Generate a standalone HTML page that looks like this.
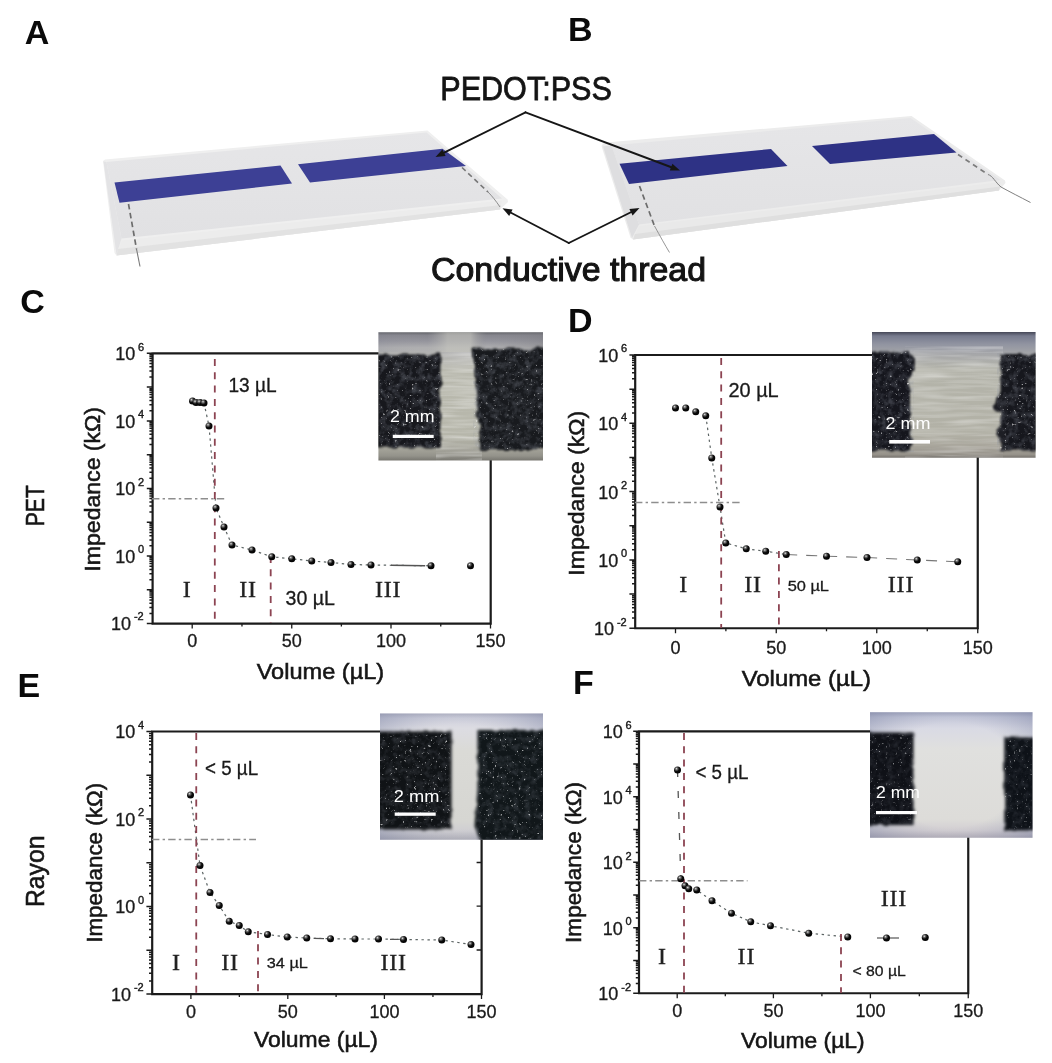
<!DOCTYPE html>
<html lang="en"><head><meta charset="utf-8"><title>Figure</title>
<style>
html,body{margin:0;padding:0;background:#fff;}
body{width:1052px;height:1063px;overflow:hidden;}
svg{display:block;filter:blur(0.55px);}
text{font-family:"Liberation Sans", sans-serif;fill:#1a1a1a;}
.lbl{font-weight:bold;font-size:34px;fill:#0a0a0a;}
.tk{font-size:18px;fill:#1a1a1a;stroke:#1a1a1a;stroke-width:0.3px;}
.sup{font-size:11px;fill:#1a1a1a;stroke:#1a1a1a;stroke-width:0.4px;}
.ax{font-size:22px;fill:#161616;}
.rom{font-family:"Liberation Serif", serif;font-size:24px;fill:#222;stroke:#222;stroke-width:0.35px;letter-spacing:0.8px;}
.ann{font-size:19.5px;fill:#1a1a1a;stroke:#1a1a1a;stroke-width:0.3px;}
.ann2{font-size:15px;fill:#1a1a1a;stroke:#1a1a1a;stroke-width:0.3px;}
.mm{font-size:16.5px;fill:#fff;}
</style></head><body>
<svg width="1052" height="1063" viewBox="0 0 1052 1063">
<defs>
<radialGradient id="ball" cx="0.36" cy="0.32" r="0.7"><stop offset="0" stop-color="#f0f0f0"/><stop offset="0.2" stop-color="#777"/><stop offset="0.55" stop-color="#0c0c0c"/><stop offset="1" stop-color="#000"/></radialGradient>
<filter id="soft" x="-5%" y="-5%" width="110%" height="110%"><feGaussianBlur stdDeviation="0.7"/></filter>
<filter id="soft2" x="-5%" y="-5%" width="110%" height="110%"><feGaussianBlur stdDeviation="1.6"/></filter>
<filter id="soft3" x="-10%" y="-10%" width="120%" height="120%"><feGaussianBlur stdDeviation="3"/></filter>
<filter id="txt" x="-5%" y="-20%" width="110%" height="140%"><feGaussianBlur stdDeviation="0.45"/></filter>
<filter id="speck" x="0" y="0" width="100%" height="100%" color-interpolation-filters="sRGB"><feTurbulence type="fractalNoise" baseFrequency="0.42" numOctaves="2" seed="7" result="n"/><feColorMatrix in="n" type="matrix" values="0 0 0 0 1  0 0 0 0 1  0 0 0 0 1  3 3 3 0 -5.35"/><feGaussianBlur stdDeviation="0.6"/><feComposite in2="SourceGraphic" operator="in"/></filter>
<filter id="fiber" x="0" y="0" width="100%" height="100%"><feTurbulence type="fractalNoise" baseFrequency="0.02 0.28" numOctaves="2" seed="3" result="n"/><feColorMatrix in="n" type="matrix" values="0 0 0 0 1  0 0 0 0 1  0 0 0 0 1  1.2 1.2 0 0 -0.95"/><feComposite in2="SourceGraphic" operator="in"/></filter>
<linearGradient id="slabTop" x1="0" y1="0" x2="0" y2="1"><stop offset="0" stop-color="#e6e6e8"/><stop offset="1" stop-color="#e1e1e3"/></linearGradient>
</defs>
<rect x="0" y="0" width="1052" height="1063" fill="#ffffff"/>
<g id="panelAB">
<g filter="url(#soft)">
<polygon points="103.0,161.0 105.0,159.5 427.5,130.5 507.5,199.5 508.0,202.0 500.0,209.5 116.5,255.5 114.5,253.0" fill="#efefef"/>
<polygon points="103.5,161.5 106.5,162.0 121.5,238.5 116.5,254.5" fill="#e3e3e5"/>
<polygon points="106.5,162.0 426.5,132.5 502.0,198.5 121.5,238.5" fill="url(#slabTop)"/>
<polygon points="121.5,240.5 502.0,200.5 500.0,209.5 116.5,255.5" fill="#ececec"/>
<polygon points="118.0,249.0 501.0,205.0 500.0,209.5 116.5,255.5" fill="#e2e2e2"/>
</g>
<g filter="url(#soft)">
<polygon points="114.5,182.5 280.5,165.5 292.0,183.5 119.5,202.8" fill="#3c4095"/>
<polygon points="298.0,164.2 442.5,148.8 466.0,166.0 310.0,182.6" fill="#3c4095"/>
</g>
<line x1="128.50" y1="204.00" x2="136.50" y2="249.00" stroke="#6c6c6c" stroke-width="1.7" stroke-dasharray="5.5 3.5"/>
<line x1="136.50" y1="249.00" x2="140.00" y2="266.50" stroke="#7a7a7a" stroke-width="1.1"/>
<line x1="462.00" y1="167.50" x2="488.00" y2="192.00" stroke="#777" stroke-width="1.6" stroke-dasharray="5 3.5"/>
<path d="M488,192 C492,196 496,201 500,207" fill="none" stroke="#8d8d8d" stroke-width="1"/>
<g filter="url(#soft)">
<polygon points="601.5,146.0 603.0,143.5 606.0,142.5 911.5,116.0 1005.0,180.5 1005.5,183.0 999.0,190.5 633.0,239.5 630.5,237.5" fill="#ececec"/>
<polygon points="611.5,145.5 910.5,118.0 1000.5,180.0 639.0,224.5" fill="url(#slabTop)"/>
<polygon points="603.0,146.5 611.5,145.5 639.0,224.5 632.0,238.0" fill="#dedee0"/>
<polygon points="639.0,226.0 1000.5,182.0 999.0,190.5 633.0,239.5" fill="#e9e9e9"/>
<polygon points="635.0,234.0 1000.0,186.5 999.0,190.5 633.0,239.5" fill="#dfdfdf"/>
</g>
<g filter="url(#soft)">
<polygon points="619.5,163.8 771.0,149.0 787.5,166.0 629.0,184.0" fill="#2f3285"/>
<polygon points="812.0,146.0 934.0,134.0 956.5,152.5 830.0,164.0" fill="#2f3285"/>
</g>
<line x1="639.50" y1="186.00" x2="654.50" y2="226.00" stroke="#6c6c6c" stroke-width="1.7" stroke-dasharray="5.5 3.5"/>
<path d="M654.5,226 C660,236 665,245 669.5,252.5" fill="none" stroke="#8a8a8a" stroke-width="0.9"/>
<line x1="958.00" y1="154.50" x2="988.00" y2="174.50" stroke="#7c7c7c" stroke-width="1.6" stroke-dasharray="5 4"/>
<path d="M988,174.5 C993,176 995,182 1001,187 C1010,192 1020,197 1030.5,202.5" fill="none" stroke="#808080" stroke-width="1"/>
<line x1="525.50" y1="112.30" x2="443.11" y2="153.22" stroke="#161616" stroke-width="1.9" stroke-linecap="round"/>
<polygon points="435.5,157.0 442.4,149.5 445.6,156.0" fill="#161616"/>
<line x1="525.50" y1="112.30" x2="672.05" y2="167.50" stroke="#161616" stroke-width="1.9" stroke-linecap="round"/>
<polygon points="680.0,170.5 669.8,170.5 672.4,163.8" fill="#161616"/>
<line x1="568.80" y1="243.00" x2="510.03" y2="212.24" stroke="#161616" stroke-width="1.9" stroke-linecap="round"/>
<polygon points="502.5,208.3 512.6,209.5 509.2,215.9" fill="#161616"/>
<line x1="568.80" y1="243.00" x2="631.88" y2="211.77" stroke="#161616" stroke-width="1.9" stroke-linecap="round"/>
<polygon points="639.5,208.0 632.6,215.4 629.4,209.0" fill="#161616"/>
<text x="24.7" y="43.7" class="lbl" >A</text>
<text x="568.0" y="41.2" class="lbl" >B</text>
<text x="440.3" y="100.3" textLength="171.5" lengthAdjust="spacingAndGlyphs" style="font-size:34px;fill:#141414" stroke="#141414" stroke-width="0.8">PEDOT:PSS</text>
<text x="431.0" y="281.4" textLength="275.0" lengthAdjust="spacingAndGlyphs" style="font-size:34px;fill:#141414" stroke="#141414" stroke-width="1.1">Conductive thread</text>
</g>
<g id="chartC">
<path d="M379.50,353.30 H152.60 M152.60,352.40 V623.60 H490.70 V459.70" fill="none" stroke="#1b1b1b" stroke-width="2.2" stroke-linejoin="miter"/>
<path d="M152.60,623.60 h-5.8 M152.60,613.43 h-3.2 M152.60,607.48 h-3.2 M152.60,603.26 h-3.2 M152.60,599.98 h-3.2 M152.60,597.31 h-3.2 M152.60,595.05 h-3.2 M152.60,593.09 h-3.2 M152.60,591.36 h-3.2 M152.60,589.81 h-5.8 M152.60,579.64 h-3.2 M152.60,573.69 h-3.2 M152.60,569.47 h-3.2 M152.60,566.20 h-3.2 M152.60,563.52 h-3.2 M152.60,561.26 h-3.2 M152.60,559.30 h-3.2 M152.60,557.57 h-3.2 M152.60,556.02 h-5.8 M152.60,545.85 h-3.2 M152.60,539.90 h-3.2 M152.60,535.68 h-3.2 M152.60,532.41 h-3.2 M152.60,529.73 h-3.2 M152.60,527.47 h-3.2 M152.60,525.51 h-3.2 M152.60,523.78 h-3.2 M152.60,522.24 h-5.8 M152.60,512.07 h-3.2 M152.60,506.12 h-3.2 M152.60,501.90 h-3.2 M152.60,498.62 h-3.2 M152.60,495.95 h-3.2 M152.60,493.68 h-3.2 M152.60,491.72 h-3.2 M152.60,490.00 h-3.2 M152.60,488.45 h-5.8 M152.60,478.28 h-3.2 M152.60,472.33 h-3.2 M152.60,468.11 h-3.2 M152.60,464.83 h-3.2 M152.60,462.16 h-3.2 M152.60,459.90 h-3.2 M152.60,457.94 h-3.2 M152.60,456.21 h-3.2 M152.60,454.66 h-5.8 M152.60,444.49 h-3.2 M152.60,438.54 h-3.2 M152.60,434.32 h-3.2 M152.60,431.05 h-3.2 M152.60,428.37 h-3.2 M152.60,426.11 h-3.2 M152.60,424.15 h-3.2 M152.60,422.42 h-3.2 M152.60,420.88 h-5.8 M152.60,410.70 h-3.2 M152.60,404.75 h-3.2 M152.60,400.53 h-3.2 M152.60,397.26 h-3.2 M152.60,394.58 h-3.2 M152.60,392.32 h-3.2 M152.60,390.36 h-3.2 M152.60,388.63 h-3.2 M152.60,387.09 h-5.8 M152.60,376.92 h-3.2 M152.60,370.97 h-3.2 M152.60,366.75 h-3.2 M152.60,363.47 h-3.2 M152.60,360.80 h-3.2 M152.60,358.53 h-3.2 M152.60,356.57 h-3.2 M152.60,354.85 h-3.2 M152.60,353.30 h-5.8" stroke="#1b1b1b" stroke-width="1.5" fill="none"/>
<path d="M192.20,623.60 v5.0 M241.97,623.60 v3.0 M291.75,623.60 v5.0 M341.38,623.60 v3.0 M391.00,623.60 v5.0 M440.75,623.60 v3.0 M490.50,623.60 v5.0" stroke="#1b1b1b" stroke-width="1.3" fill="none"/>
<text x="135.4" y="360.4" class="tk" text-anchor="end" >10</text>
<text x="138.1" y="350.8" class="sup" >6</text>
<text x="135.4" y="427.9" class="tk" text-anchor="end" >10</text>
<text x="138.1" y="418.3" class="sup" >4</text>
<text x="135.4" y="495.2" class="tk" text-anchor="end" >10</text>
<text x="138.1" y="485.6" class="sup" >2</text>
<text x="135.4" y="562.6" class="tk" text-anchor="end" >10</text>
<text x="138.1" y="553.0" class="sup" >0</text>
<text x="131.0" y="629.9" class="tk" text-anchor="end" >10</text>
<text x="133.9" y="620.3" class="sup" >-2</text>
<text x="192.2" y="647.2" class="tk" text-anchor="middle" >0</text>
<text x="291.8" y="647.2" class="tk" text-anchor="middle" >50</text>
<text x="391.0" y="647.2" class="tk" text-anchor="middle" >100</text>
<text x="490.5" y="647.2" class="tk" text-anchor="middle" >150</text>
<text x="256.7" y="678.6" class="ax" textLength="127.5" lengthAdjust="spacingAndGlyphs" stroke="#161616" stroke-width="0.55">Volume (µL)</text>
<text class="ax" transform="translate(99.6,489.3) rotate(-90)" text-anchor="middle" textLength="164.5" lengthAdjust="spacingAndGlyphs" stroke="#161616" stroke-width="0.55">Impedance (kΩ)</text>
<line x1="152.00" y1="498.80" x2="226.00" y2="498.80" stroke="#8e8e8e" stroke-width="1.5" stroke-dasharray="7.4 3.2 2.4 3.2"/>
<polyline points="204.0,403.0 209.0,426.0 216.0,508.0 224.0,527.0 232.0,545.0 252.0,550.0 271.8,556.8 291.8,558.8 311.8,561.0 331.0,562.5 351.0,564.5 371.0,565.0 431.0,565.8" fill="none" stroke="#5c6464" stroke-width="1.2" stroke-dasharray="2.4 3.6"/>
<polyline points="391.0,565.3 425.0,565.7" fill="none" stroke="#555" stroke-width="1.4" stroke-dasharray="none"/>
<line x1="214.80" y1="359.00" x2="214.80" y2="623.00" stroke="#8c4452" stroke-width="1.8" stroke-dasharray="7 6.3"/>
<line x1="270.70" y1="556.00" x2="270.70" y2="623.00" stroke="#8c4452" stroke-width="1.8" stroke-dasharray="7 6.3"/>
<circle cx="192.50" cy="401.00" r="3.5" fill="url(#ball)"/>
<circle cx="196.00" cy="402.50" r="3.5" fill="url(#ball)"/>
<circle cx="200.00" cy="402.50" r="3.5" fill="url(#ball)"/>
<circle cx="204.00" cy="403.00" r="3.5" fill="url(#ball)"/>
<circle cx="209.00" cy="426.00" r="3.5" fill="url(#ball)"/>
<circle cx="216.00" cy="508.00" r="3.5" fill="url(#ball)"/>
<circle cx="224.00" cy="527.00" r="3.5" fill="url(#ball)"/>
<circle cx="232.00" cy="545.00" r="3.5" fill="url(#ball)"/>
<circle cx="252.00" cy="550.00" r="3.5" fill="url(#ball)"/>
<circle cx="271.75" cy="556.75" r="3.5" fill="url(#ball)"/>
<circle cx="291.75" cy="558.75" r="3.5" fill="url(#ball)"/>
<circle cx="311.75" cy="561.00" r="3.5" fill="url(#ball)"/>
<circle cx="331.00" cy="562.50" r="3.5" fill="url(#ball)"/>
<circle cx="351.00" cy="564.50" r="3.5" fill="url(#ball)"/>
<circle cx="371.00" cy="565.00" r="3.5" fill="url(#ball)"/>
<circle cx="431.00" cy="565.75" r="3.5" fill="url(#ball)"/>
<circle cx="470.50" cy="565.75" r="3.5" fill="url(#ball)"/>
<text x="187.1" y="596.6" class="rom" text-anchor="middle" >I</text>
<text x="248.1" y="596.6" class="rom" text-anchor="middle" >II</text>
<text x="388.1" y="596.6" class="rom" text-anchor="middle" >III</text>
<text x="228.5" y="392.1" class="ann" textLength="48.2" lengthAdjust="spacingAndGlyphs" >13 µL</text>
<text x="285.6" y="604.5" class="ann" textLength="49.4" lengthAdjust="spacingAndGlyphs" >30 µL</text>
</g>
<g id="chartD">
<path d="M873.00,355.00 H635.20 M635.20,354.10 V628.25 H977.75 V456.80" fill="none" stroke="#1b1b1b" stroke-width="2.2" stroke-linejoin="miter"/>
<path d="M635.20,628.25 h-5.8 M635.20,617.97 h-3.2 M635.20,611.95 h-3.2 M635.20,607.69 h-3.2 M635.20,604.38 h-3.2 M635.20,601.67 h-3.2 M635.20,599.38 h-3.2 M635.20,597.40 h-3.2 M635.20,595.66 h-3.2 M635.20,594.09 h-5.8 M635.20,583.81 h-3.2 M635.20,577.80 h-3.2 M635.20,573.53 h-3.2 M635.20,570.22 h-3.2 M635.20,567.52 h-3.2 M635.20,565.23 h-3.2 M635.20,563.25 h-3.2 M635.20,561.50 h-3.2 M635.20,559.94 h-5.8 M635.20,549.66 h-3.2 M635.20,543.64 h-3.2 M635.20,539.37 h-3.2 M635.20,536.06 h-3.2 M635.20,533.36 h-3.2 M635.20,531.07 h-3.2 M635.20,529.09 h-3.2 M635.20,527.34 h-3.2 M635.20,525.78 h-5.8 M635.20,515.50 h-3.2 M635.20,509.48 h-3.2 M635.20,505.22 h-3.2 M635.20,501.91 h-3.2 M635.20,499.20 h-3.2 M635.20,496.92 h-3.2 M635.20,494.94 h-3.2 M635.20,493.19 h-3.2 M635.20,491.62 h-5.8 M635.20,481.34 h-3.2 M635.20,475.33 h-3.2 M635.20,471.06 h-3.2 M635.20,467.75 h-3.2 M635.20,465.05 h-3.2 M635.20,462.76 h-3.2 M635.20,460.78 h-3.2 M635.20,459.03 h-3.2 M635.20,457.47 h-5.8 M635.20,447.19 h-3.2 M635.20,441.17 h-3.2 M635.20,436.90 h-3.2 M635.20,433.59 h-3.2 M635.20,430.89 h-3.2 M635.20,428.60 h-3.2 M635.20,426.62 h-3.2 M635.20,424.88 h-3.2 M635.20,423.31 h-5.8 M635.20,413.03 h-3.2 M635.20,407.02 h-3.2 M635.20,402.75 h-3.2 M635.20,399.44 h-3.2 M635.20,396.73 h-3.2 M635.20,394.45 h-3.2 M635.20,392.47 h-3.2 M635.20,390.72 h-3.2 M635.20,389.16 h-5.8 M635.20,378.87 h-3.2 M635.20,372.86 h-3.2 M635.20,368.59 h-3.2 M635.20,365.28 h-3.2 M635.20,362.58 h-3.2 M635.20,360.29 h-3.2 M635.20,358.31 h-3.2 M635.20,356.56 h-3.2 M635.20,355.00 h-5.8" stroke="#1b1b1b" stroke-width="1.5" fill="none"/>
<path d="M675.50,628.25 v5.0 M725.88,628.25 v3.0 M776.25,628.25 v5.0 M826.50,628.25 v3.0 M876.75,628.25 v5.0 M927.25,628.25 v3.0 M977.75,628.25 v5.0" stroke="#1b1b1b" stroke-width="1.3" fill="none"/>
<text x="618.4" y="361.9" class="tk" text-anchor="end" >10</text>
<text x="621.1" y="352.3" class="sup" >6</text>
<text x="618.4" y="430.2" class="tk" text-anchor="end" >10</text>
<text x="621.1" y="420.6" class="sup" >4</text>
<text x="618.4" y="498.5" class="tk" text-anchor="end" >10</text>
<text x="621.1" y="488.9" class="sup" >2</text>
<text x="618.4" y="566.9" class="tk" text-anchor="end" >10</text>
<text x="621.1" y="557.3" class="sup" >0</text>
<text x="614.0" y="635.1" class="tk" text-anchor="end" >10</text>
<text x="616.9" y="625.5" class="sup" >-2</text>
<text x="675.5" y="653.8" class="tk" text-anchor="middle" >0</text>
<text x="776.2" y="653.8" class="tk" text-anchor="middle" >50</text>
<text x="876.8" y="653.8" class="tk" text-anchor="middle" >100</text>
<text x="977.8" y="653.8" class="tk" text-anchor="middle" >150</text>
<text x="741.7" y="686.2" class="ax" textLength="129.3" lengthAdjust="spacingAndGlyphs" stroke="#161616" stroke-width="0.55">Volume (µL)</text>
<text class="ax" transform="translate(584.4,493.2) rotate(-90)" text-anchor="middle" textLength="165.0" lengthAdjust="spacingAndGlyphs" stroke="#161616" stroke-width="0.55">Impedance (kΩ)</text>
<line x1="635.00" y1="502.50" x2="740.00" y2="502.50" stroke="#8e8e8e" stroke-width="1.5" stroke-dasharray="7.4 3.2 2.4 3.2"/>
<polyline points="705.8,415.8 711.8,458.0 720.0,507.0 725.8,543.0 746.2,548.8 765.8,551.2 786.2,554.5" fill="none" stroke="#5c6464" stroke-width="1.2" stroke-dasharray="2.4 3.6"/>
<polyline points="786.2,554.5 826.5,556.2 867.0,557.5 917.2,560.0 957.8,561.8" fill="none" stroke="#777" stroke-width="1.1" stroke-dasharray="11 9"/>
<line x1="721.20" y1="358.00" x2="721.20" y2="628.00" stroke="#8c4452" stroke-width="1.8" stroke-dasharray="7 6.3"/>
<line x1="778.90" y1="551.00" x2="778.90" y2="628.00" stroke="#8c4452" stroke-width="1.8" stroke-dasharray="7 6.3"/>
<circle cx="675.50" cy="408.00" r="3.5" fill="url(#ball)"/>
<circle cx="685.75" cy="408.00" r="3.5" fill="url(#ball)"/>
<circle cx="695.75" cy="411.75" r="3.5" fill="url(#ball)"/>
<circle cx="705.75" cy="415.75" r="3.5" fill="url(#ball)"/>
<circle cx="711.75" cy="458.00" r="3.5" fill="url(#ball)"/>
<circle cx="720.00" cy="507.00" r="3.5" fill="url(#ball)"/>
<circle cx="725.75" cy="543.00" r="3.5" fill="url(#ball)"/>
<circle cx="746.25" cy="548.75" r="3.5" fill="url(#ball)"/>
<circle cx="765.75" cy="551.25" r="3.5" fill="url(#ball)"/>
<circle cx="786.25" cy="554.50" r="3.5" fill="url(#ball)"/>
<circle cx="826.50" cy="556.25" r="3.5" fill="url(#ball)"/>
<circle cx="867.00" cy="557.50" r="3.5" fill="url(#ball)"/>
<circle cx="917.25" cy="560.00" r="3.5" fill="url(#ball)"/>
<circle cx="957.75" cy="561.75" r="3.5" fill="url(#ball)"/>
<text x="683.7" y="592.0" class="rom" text-anchor="middle" >I</text>
<text x="753.0" y="592.0" class="rom" text-anchor="middle" >II</text>
<text x="901.0" y="592.0" class="rom" text-anchor="middle" >III</text>
<text x="728.5" y="397.4" class="ann" textLength="50.2" lengthAdjust="spacingAndGlyphs" >20 µL</text>
<text x="787.7" y="590.8" class="ann2" textLength="41.3" lengthAdjust="spacingAndGlyphs" >50 µL</text>
</g>
<g id="chartE">
<path d="M381.00,731.50 H152.20 M152.20,730.60 V994.10 H481.60 V838.70" fill="none" stroke="#1b1b1b" stroke-width="2.2" stroke-linejoin="miter"/>
<path d="M152.20,994.10 h-5.8 M152.20,980.92 h-3.2 M152.20,973.22 h-3.2 M152.20,967.75 h-3.2 M152.20,963.51 h-3.2 M152.20,960.04 h-3.2 M152.20,957.11 h-3.2 M152.20,954.57 h-3.2 M152.20,952.34 h-3.2 M152.20,950.33 h-5.8 M152.20,937.16 h-3.2 M152.20,929.45 h-3.2 M152.20,923.98 h-3.2 M152.20,919.74 h-3.2 M152.20,916.28 h-3.2 M152.20,913.35 h-3.2 M152.20,910.81 h-3.2 M152.20,908.57 h-3.2 M152.20,906.57 h-5.8 M152.20,893.39 h-3.2 M152.20,885.68 h-3.2 M152.20,880.22 h-3.2 M152.20,875.98 h-3.2 M152.20,872.51 h-3.2 M152.20,869.58 h-3.2 M152.20,867.04 h-3.2 M152.20,864.80 h-3.2 M152.20,862.80 h-5.8 M152.20,849.62 h-3.2 M152.20,841.92 h-3.2 M152.20,836.45 h-3.2 M152.20,832.21 h-3.2 M152.20,828.74 h-3.2 M152.20,825.81 h-3.2 M152.20,823.27 h-3.2 M152.20,821.04 h-3.2 M152.20,819.03 h-5.8 M152.20,805.86 h-3.2 M152.20,798.15 h-3.2 M152.20,792.68 h-3.2 M152.20,788.44 h-3.2 M152.20,784.98 h-3.2 M152.20,782.05 h-3.2 M152.20,779.51 h-3.2 M152.20,777.27 h-3.2 M152.20,775.27 h-5.8 M152.20,762.09 h-3.2 M152.20,754.38 h-3.2 M152.20,748.92 h-3.2 M152.20,744.68 h-3.2 M152.20,741.21 h-3.2 M152.20,738.28 h-3.2 M152.20,735.74 h-3.2 M152.20,733.50 h-3.2 M152.20,731.50 h-5.8" stroke="#1b1b1b" stroke-width="1.5" fill="none"/>
<path d="M190.90,994.10 v5.0 M239.35,994.10 v3.0 M287.80,994.10 v5.0 M336.10,994.10 v3.0 M384.40,994.10 v5.0 M432.95,994.10 v3.0 M481.50,994.10 v5.0" stroke="#1b1b1b" stroke-width="1.3" fill="none"/>
<path d="M481.60,862.50 h-5 M481.60,906.20 h-5 M481.60,950.00 h-5" stroke="#1b1b1b" stroke-width="1.3" fill="none"/>
<text x="135.4" y="738.2" class="tk" text-anchor="end" >10</text>
<text x="138.1" y="728.6" class="sup" >4</text>
<text x="135.4" y="825.7" class="tk" text-anchor="end" >10</text>
<text x="138.1" y="816.1" class="sup" >2</text>
<text x="135.4" y="913.1" class="tk" text-anchor="end" >10</text>
<text x="138.1" y="903.5" class="sup" >0</text>
<text x="131.0" y="1000.6" class="tk" text-anchor="end" >10</text>
<text x="133.9" y="991.0" class="sup" >-2</text>
<text x="190.9" y="1018.0" class="tk" text-anchor="middle" >0</text>
<text x="287.8" y="1018.0" class="tk" text-anchor="middle" >50</text>
<text x="384.4" y="1018.0" class="tk" text-anchor="middle" >100</text>
<text x="481.5" y="1018.0" class="tk" text-anchor="middle" >150</text>
<text x="254.0" y="1046.5" class="ax" textLength="124.0" lengthAdjust="spacingAndGlyphs" stroke="#161616" stroke-width="0.55">Volume (µL)</text>
<text class="ax" transform="translate(102.2,862.8) rotate(-90)" text-anchor="middle" textLength="160.0" lengthAdjust="spacingAndGlyphs" stroke="#161616" stroke-width="0.55">Impedance (kΩ)</text>
<line x1="152.00" y1="839.50" x2="256.00" y2="839.50" stroke="#8e8e8e" stroke-width="1.5" stroke-dasharray="7.4 3.2 2.4 3.2"/>
<polyline points="190.5,795.0 200.0,865.5 210.0,892.5 219.2,905.5 229.2,921.2 239.2,925.5 248.2,931.8 267.5,934.5 287.2,937.0 306.8,938.0 330.5,938.8 355.0,939.0 378.5,939.0 403.5,939.5 441.8,940.0 471.0,944.5" fill="none" stroke="#5c6464" stroke-width="1.2" stroke-dasharray="2.4 3.6"/>
<polyline points="314.0,938.3 324.0,938.6" fill="none" stroke="#555" stroke-width="1.3" stroke-dasharray="none"/>
<polyline points="390.0,939.3 398.0,939.4" fill="none" stroke="#555" stroke-width="1.3" stroke-dasharray="none"/>
<line x1="196.25" y1="733.00" x2="196.25" y2="993.00" stroke="#8c4452" stroke-width="1.8" stroke-dasharray="7 6.3"/>
<line x1="258.00" y1="931.00" x2="258.00" y2="993.00" stroke="#8c4452" stroke-width="1.8" stroke-dasharray="7 6.3"/>
<circle cx="190.50" cy="795.00" r="3.5" fill="url(#ball)"/>
<circle cx="200.00" cy="865.50" r="3.5" fill="url(#ball)"/>
<circle cx="210.00" cy="892.50" r="3.5" fill="url(#ball)"/>
<circle cx="219.25" cy="905.50" r="3.5" fill="url(#ball)"/>
<circle cx="229.25" cy="921.25" r="3.5" fill="url(#ball)"/>
<circle cx="239.25" cy="925.50" r="3.5" fill="url(#ball)"/>
<circle cx="248.25" cy="931.75" r="3.5" fill="url(#ball)"/>
<circle cx="267.50" cy="934.50" r="3.5" fill="url(#ball)"/>
<circle cx="287.25" cy="937.00" r="3.5" fill="url(#ball)"/>
<circle cx="306.75" cy="938.00" r="3.5" fill="url(#ball)"/>
<circle cx="330.50" cy="938.75" r="3.5" fill="url(#ball)"/>
<circle cx="355.00" cy="939.00" r="3.5" fill="url(#ball)"/>
<circle cx="378.50" cy="939.00" r="3.5" fill="url(#ball)"/>
<circle cx="403.50" cy="939.50" r="3.5" fill="url(#ball)"/>
<circle cx="441.75" cy="940.00" r="3.5" fill="url(#ball)"/>
<circle cx="471.00" cy="944.50" r="3.5" fill="url(#ball)"/>
<text x="176.4" y="970.2" class="rom" text-anchor="middle" >I</text>
<text x="230.0" y="970.2" class="rom" text-anchor="middle" >II</text>
<text x="393.7" y="970.2" class="rom" text-anchor="middle" >III</text>
<text x="205.1" y="774.9" class="ann" textLength="53.0" lengthAdjust="spacingAndGlyphs" >&lt; 5 µL</text>
<text x="266.8" y="967.7" class="ann2" textLength="41.0" lengthAdjust="spacingAndGlyphs" >34 µL</text>
</g>
<g id="chartF">
<path d="M871.00,731.30 H639.00 M639.00,730.40 V993.25 H968.25 V836.80" fill="none" stroke="#1b1b1b" stroke-width="2.2" stroke-linejoin="miter"/>
<path d="M639.00,993.25 h-5.8 M639.00,983.39 h-3.2 M639.00,977.63 h-3.2 M639.00,973.54 h-3.2 M639.00,970.36 h-3.2 M639.00,967.77 h-3.2 M639.00,965.58 h-3.2 M639.00,963.68 h-3.2 M639.00,962.00 h-3.2 M639.00,960.51 h-5.8 M639.00,950.65 h-3.2 M639.00,944.88 h-3.2 M639.00,940.79 h-3.2 M639.00,937.62 h-3.2 M639.00,935.03 h-3.2 M639.00,932.83 h-3.2 M639.00,930.94 h-3.2 M639.00,929.26 h-3.2 M639.00,927.76 h-5.8 M639.00,917.91 h-3.2 M639.00,912.14 h-3.2 M639.00,908.05 h-3.2 M639.00,904.88 h-3.2 M639.00,902.28 h-3.2 M639.00,900.09 h-3.2 M639.00,898.19 h-3.2 M639.00,896.52 h-3.2 M639.00,895.02 h-5.8 M639.00,885.16 h-3.2 M639.00,879.40 h-3.2 M639.00,875.31 h-3.2 M639.00,872.13 h-3.2 M639.00,869.54 h-3.2 M639.00,867.35 h-3.2 M639.00,865.45 h-3.2 M639.00,863.77 h-3.2 M639.00,862.27 h-5.8 M639.00,852.42 h-3.2 M639.00,846.65 h-3.2 M639.00,842.56 h-3.2 M639.00,839.39 h-3.2 M639.00,836.80 h-3.2 M639.00,834.60 h-3.2 M639.00,832.70 h-3.2 M639.00,831.03 h-3.2 M639.00,829.53 h-5.8 M639.00,819.67 h-3.2 M639.00,813.91 h-3.2 M639.00,809.82 h-3.2 M639.00,806.64 h-3.2 M639.00,804.05 h-3.2 M639.00,801.86 h-3.2 M639.00,799.96 h-3.2 M639.00,798.29 h-3.2 M639.00,796.79 h-5.8 M639.00,786.93 h-3.2 M639.00,781.16 h-3.2 M639.00,777.07 h-3.2 M639.00,773.90 h-3.2 M639.00,771.31 h-3.2 M639.00,769.12 h-3.2 M639.00,767.22 h-3.2 M639.00,765.54 h-3.2 M639.00,764.04 h-5.8 M639.00,754.19 h-3.2 M639.00,748.42 h-3.2 M639.00,744.33 h-3.2 M639.00,741.16 h-3.2 M639.00,738.56 h-3.2 M639.00,736.37 h-3.2 M639.00,734.47 h-3.2 M639.00,732.80 h-3.2 M639.00,731.30 h-5.8" stroke="#1b1b1b" stroke-width="1.5" fill="none"/>
<path d="M677.20,993.25 v5.0 M725.30,993.25 v3.0 M773.40,993.25 v5.0 M821.90,993.25 v3.0 M870.40,993.25 v5.0 M919.33,993.25 v3.0 M968.25,993.25 v5.0" stroke="#1b1b1b" stroke-width="1.3" fill="none"/>
<text x="622.8" y="738.2" class="tk" text-anchor="end" >10</text>
<text x="625.5" y="728.6" class="sup" >6</text>
<text x="622.8" y="803.7" class="tk" text-anchor="end" >10</text>
<text x="625.5" y="794.1" class="sup" >4</text>
<text x="622.8" y="869.2" class="tk" text-anchor="end" >10</text>
<text x="625.5" y="859.6" class="sup" >2</text>
<text x="622.8" y="934.7" class="tk" text-anchor="end" >10</text>
<text x="625.5" y="925.1" class="sup" >0</text>
<text x="618.4" y="1000.1" class="tk" text-anchor="end" >10</text>
<text x="621.3" y="990.5" class="sup" >-2</text>
<text x="677.2" y="1017.3" class="tk" text-anchor="middle" >0</text>
<text x="773.4" y="1017.3" class="tk" text-anchor="middle" >50</text>
<text x="870.4" y="1017.3" class="tk" text-anchor="middle" >100</text>
<text x="968.2" y="1017.3" class="tk" text-anchor="middle" >150</text>
<text x="741.0" y="1047.7" class="ax" textLength="123.6" lengthAdjust="spacingAndGlyphs" stroke="#161616" stroke-width="0.55">Volume (µL)</text>
<text class="ax" transform="translate(581.1,862.4) rotate(-90)" text-anchor="middle" textLength="161.0" lengthAdjust="spacingAndGlyphs" stroke="#161616" stroke-width="0.55">Impedance (kΩ)</text>
<line x1="639.00" y1="880.75" x2="747.50" y2="880.75" stroke="#8e8e8e" stroke-width="1.5" stroke-dasharray="7.4 3.2 2.4 3.2"/>
<polyline points="677.5,770.0 680.8,878.8" fill="none" stroke="#555" stroke-width="1.3" stroke-dasharray="7 14"/>
<polyline points="680.8,878.8 685.0,885.8 688.8,888.8 696.8,890.0 712.0,900.8 731.5,913.2 750.8,921.8 770.5,925.8 808.8,933.2 847.8,937.0" fill="none" stroke="#5c6464" stroke-width="1.2" stroke-dasharray="2.4 3.6"/>
<polyline points="877.0,938.0 899.0,938.0" fill="none" stroke="#555" stroke-width="1.2" stroke-dasharray="none"/>
<line x1="684.00" y1="733.00" x2="684.00" y2="993.00" stroke="#8c4452" stroke-width="1.8" stroke-dasharray="7 6.3"/>
<line x1="841.00" y1="934.00" x2="841.00" y2="993.00" stroke="#8c4452" stroke-width="1.8" stroke-dasharray="7 6.3"/>
<circle cx="677.50" cy="770.00" r="3.5" fill="url(#ball)"/>
<circle cx="680.75" cy="878.75" r="3.5" fill="url(#ball)"/>
<circle cx="685.00" cy="885.75" r="3.5" fill="url(#ball)"/>
<circle cx="688.75" cy="888.75" r="3.5" fill="url(#ball)"/>
<circle cx="696.75" cy="890.00" r="3.5" fill="url(#ball)"/>
<circle cx="712.00" cy="900.75" r="3.5" fill="url(#ball)"/>
<circle cx="731.50" cy="913.25" r="3.5" fill="url(#ball)"/>
<circle cx="750.75" cy="921.75" r="3.5" fill="url(#ball)"/>
<circle cx="770.50" cy="925.75" r="3.5" fill="url(#ball)"/>
<circle cx="808.75" cy="933.25" r="3.5" fill="url(#ball)"/>
<circle cx="847.75" cy="937.00" r="3.5" fill="url(#ball)"/>
<circle cx="886.50" cy="938.00" r="3.5" fill="url(#ball)"/>
<circle cx="925.25" cy="937.50" r="3.5" fill="url(#ball)"/>
<text x="662.4" y="964.1" class="rom" text-anchor="middle" >I</text>
<text x="746.4" y="964.1" class="rom" text-anchor="middle" >II</text>
<text x="893.9" y="905.7" class="rom" text-anchor="middle" >III</text>
<text x="695.4" y="779.1" class="ann" textLength="53.0" lengthAdjust="spacingAndGlyphs" >&lt; 5 µL</text>
<text x="852.4" y="976.4" class="ann2" textLength="53.4" lengthAdjust="spacingAndGlyphs" >&lt; 80 µL</text>
</g>
<text x="20.3" y="313.0" class="lbl" >C</text>
<text x="568.0" y="331.8" class="lbl" >D</text>
<text x="17.5" y="696.6" class="lbl" >E</text>
<text x="573.0" y="694.0" class="lbl" >F</text>
<text transform="translate(43.6,505.7) rotate(-90)" text-anchor="middle" textLength="41" lengthAdjust="spacingAndGlyphs" style="font-size:26.5px;fill:#161616" stroke="#161616" stroke-width="0.6">PET</text>
<text transform="translate(44.2,871.3) rotate(-90)" text-anchor="middle" textLength="71.5" lengthAdjust="spacingAndGlyphs" style="font-size:26.7px;fill:#161616" stroke="#161616" stroke-width="0.6">Rayon</text>
<filter id="rough" x="-10%" y="-10%" width="120%" height="120%" color-interpolation-filters="sRGB"><feTurbulence type="fractalNoise" baseFrequency="0.09" numOctaves="2" seed="11" result="t"/><feDisplacementMap in="SourceGraphic" in2="t" scale="7" xChannelSelector="R" yChannelSelector="G"/><feGaussianBlur stdDeviation="1.3"/></filter>
<filter id="mottle" x="0" y="0" width="100%" height="100%" color-interpolation-filters="sRGB"><feTurbulence type="fractalNoise" baseFrequency="0.16" numOctaves="3" seed="5" result="n"/><feColorMatrix in="n" type="matrix" values="0 0 0 0 0.55  0 0 0 0 0.57  0 0 0 0 0.62  1.8 1.8 0 0 -1.55"/><feGaussianBlur stdDeviation="0.7"/><feComposite in2="SourceGraphic" operator="in"/></filter>
<radialGradient id="vig" cx="0.5" cy="0.5" r="0.75"><stop offset="0.55" stop-color="#7c84a6" stop-opacity="0"/><stop offset="1" stop-color="#6c7498" stop-opacity="0.5"/></radialGradient>
<filter id="rough2" x="-10%" y="-10%" width="120%" height="120%" color-interpolation-filters="sRGB"><feTurbulence type="fractalNoise" baseFrequency="0.12" numOctaves="2" seed="4" result="t"/><feDisplacementMap in="SourceGraphic" in2="t" scale="3.5" xChannelSelector="R" yChannelSelector="G"/><feGaussianBlur stdDeviation="1.5"/></filter>
<linearGradient id="gC" x1="0" y1="0" x2="0" y2="1"><stop offset="0" stop-color="#5e5f64"/><stop offset="0.025" stop-color="#86868e"/><stop offset="0.07" stop-color="#94949c"/><stop offset="0.12" stop-color="#aeaeb0"/><stop offset="0.18" stop-color="#b4b4b2"/><stop offset="0.3" stop-color="#b9b9ae"/><stop offset="0.8" stop-color="#b6b6aa"/><stop offset="0.9" stop-color="#a6a59b"/><stop offset="0.96" stop-color="#94938b"/><stop offset="1" stop-color="#74736d"/></linearGradient>
<linearGradient id="gCh" x1="0" y1="0" x2="1" y2="0"><stop offset="0" stop-color="#7f8194" stop-opacity="0.15"/><stop offset="0.3" stop-color="#b8b8b4" stop-opacity="0.0"/><stop offset="0.42" stop-color="#c8c8c0" stop-opacity="0.6"/><stop offset="0.56" stop-color="#c8c8c0" stop-opacity="0.6"/><stop offset="0.66" stop-color="#909092" stop-opacity="0.0"/><stop offset="1" stop-color="#77777b" stop-opacity="0.35"/></linearGradient>
<g id="photoC">
<clipPath id="clipC"><rect x="378.4" y="332.3" width="164.6" height="128.3"/></clipPath>
<g clip-path="url(#clipC)">
<rect x="378.0" y="332.0" width="165.5" height="129.0" fill="url(#gC)" />
<rect x="378.0" y="332.0" width="165.5" height="20.0" fill="url(#gCh)" />
<rect x="436.0" y="352.0" width="46.0" height="109.0" fill="#e2e2d6" filter="url(#fiber)" opacity="0.42"/>
<g filter="url(#rough)">
<rect x="368.0" y="354.5" width="72.5" height="93.0" fill="#17181d" />
<polygon points="472.5,348.5 556,348.5 556,450 480.5,450" fill="#181a1e"/>
<polygon points="440,430 441,448 436,448" fill="#17181d"/>
</g>
<rect x="378.4" y="354.0" width="62.6" height="94.0" fill="#fff" filter="url(#mottle)" opacity="0.32"/>
<rect x="473.0" y="348.0" width="70.0" height="102.0" fill="#fff" filter="url(#mottle)" opacity="0.3"/>
<rect x="378.4" y="355.0" width="61.6" height="92.0" fill="#fff" filter="url(#speck)" opacity="0.6"/>
<rect x="474.0" y="349.0" width="69.0" height="100.0" fill="#fff" filter="url(#speck)" opacity="0.55"/>
</g>
<text x="390.0" y="422.0" class="mm" textLength="44.5" lengthAdjust="spacingAndGlyphs" filter="url(#txt)">2 mm</text>
<rect x="392.8" y="434.8" width="40.9" height="3.2" fill="#fdfdfd"/>
</g>
<linearGradient id="gD" x1="0" y1="0" x2="0" y2="1"><stop offset="0" stop-color="#3f4150"/><stop offset="0.035" stop-color="#777b8e"/><stop offset="0.1" stop-color="#9194a1"/><stop offset="0.18" stop-color="#a6a7a9"/><stop offset="0.3" stop-color="#b4b4aa"/><stop offset="0.8" stop-color="#b2b1a6"/><stop offset="0.9" stop-color="#a9a69c"/><stop offset="0.97" stop-color="#97938b"/><stop offset="1" stop-color="#726f6a"/></linearGradient>
<g id="photoD">
<clipPath id="clipD"><rect x="872.0" y="332.0" width="163.6" height="125.8"/></clipPath>
<g clip-path="url(#clipD)">
<rect x="871.5" y="331.5" width="164.5" height="126.7" fill="url(#gD)" />
<rect x="905.0" y="346.0" width="98.0" height="112.0" fill="#e6e6da" filter="url(#fiber)" opacity="0.36"/>
<g filter="url(#rough)">
<rect x="860.0" y="351.5" width="50.0" height="100.0" fill="#15161d" />
<rect x="1000.5" y="354.0" width="47.5" height="96.5" fill="#16171d" />
<ellipse cx="908" cy="363" rx="8" ry="9" fill="#15161d"/>
<ellipse cx="906" cy="441" rx="7" ry="8" fill="#15161d"/>
<ellipse cx="1000" cy="404" rx="6" ry="8" fill="#1d1e24"/>
<ellipse cx="1001" cy="432" rx="5" ry="7" fill="#1d1e24"/>
</g>
<rect x="872.0" y="350.0" width="42.0" height="102.0" fill="#fff" filter="url(#mottle)" opacity="0.3"/>
<rect x="997.0" y="353.0" width="39.0" height="98.0" fill="#fff" filter="url(#mottle)" opacity="0.3"/>
<rect x="872.0" y="352.0" width="40.0" height="98.0" fill="#fff" filter="url(#speck)" opacity="0.65"/>
<rect x="998.0" y="355.0" width="38.0" height="95.0" fill="#fff" filter="url(#speck)" opacity="0.6"/>
</g>
<text x="885.5" y="428.5" class="mm" textLength="45.0" lengthAdjust="spacingAndGlyphs" filter="url(#txt)">2 mm</text>
<rect x="889.2" y="440.0" width="40.8" height="3.6" fill="#fdfdfd"/>
</g>
<linearGradient id="gE" x1="0" y1="0" x2="0" y2="1"><stop offset="0" stop-color="#b4b5c4"/><stop offset="0.04" stop-color="#cfd0dc"/><stop offset="0.12" stop-color="#dcdce2"/><stop offset="0.3" stop-color="#dadad6"/><stop offset="0.85" stop-color="#d6d6d2"/><stop offset="0.93" stop-color="#cfced2"/><stop offset="1" stop-color="#b4b3ba"/></linearGradient>
<g id="photoE">
<clipPath id="clipE"><rect x="380.0" y="713.4" width="163.0" height="126.3"/></clipPath>
<g clip-path="url(#clipE)">
<rect x="379.5" y="713.0" width="164.0" height="127.0" fill="url(#gE)" />
<rect x="379.5" y="713.0" width="164.0" height="127.0" fill="url(#vig)" />
<g filter="url(#rough2)">
<rect x="368.0" y="731.5" width="83.5" height="98.0" fill="#101316" />
<polygon points="477.5,730 556,730 556,852 484,852 474.5,826 477.5,790" fill="#11171a"/>
</g>
<rect x="380.0" y="732.0" width="72.0" height="97.0" fill="#dff" filter="url(#mottle)" opacity="0.2"/>
<rect x="476.0" y="731.0" width="67.0" height="109.0" fill="#dff" filter="url(#mottle)" opacity="0.2"/>
<rect x="380.0" y="734.0" width="70.0" height="94.0" fill="#fff" filter="url(#speck)" opacity="0.7"/>
<rect x="479.0" y="732.0" width="64.0" height="107.0" fill="#fff" filter="url(#speck)" opacity="0.65"/>
</g>
<text x="393.8" y="802.0" class="mm" textLength="45.5" lengthAdjust="spacingAndGlyphs" filter="url(#txt)">2 mm</text>
<rect x="394.7" y="812.5" width="41.0" height="3.3" fill="#fdfdfd"/>
</g>
<linearGradient id="gF" x1="0" y1="0" x2="0" y2="1"><stop offset="0" stop-color="#a4a8be"/><stop offset="0.04" stop-color="#c6c9da"/><stop offset="0.13" stop-color="#d9dae4"/><stop offset="0.3" stop-color="#e0e0de"/><stop offset="0.85" stop-color="#dddcd9"/><stop offset="0.94" stop-color="#d2ced2"/><stop offset="1" stop-color="#b5b0b8"/></linearGradient>
<g id="photoF">
<clipPath id="clipF"><rect x="870.0" y="712.3" width="162.5" height="125.5"/></clipPath>
<g clip-path="url(#clipF)">
<rect x="869.5" y="712.0" width="163.5" height="126.2" fill="url(#gF)" />
<rect x="869.5" y="712.0" width="163.5" height="126.2" fill="url(#vig)" />
<g filter="url(#rough2)">
<rect x="858.0" y="732.5" width="55.5" height="92.5" fill="#0f1117" />
<rect x="1004.3" y="737.5" width="41.7" height="93.0" fill="#0e1218" />
</g>
<rect x="870.0" y="733.0" width="44.0" height="92.0" fill="#fff" filter="url(#mottle)" opacity="0.15"/>
<rect x="1004.0" y="739.0" width="28.5" height="91.0" fill="#fff" filter="url(#mottle)" opacity="0.15"/>
<rect x="870.0" y="734.0" width="43.0" height="90.0" fill="#fff" filter="url(#speck)" opacity="0.5"/>
<rect x="1005.0" y="740.0" width="27.5" height="90.0" fill="#fff" filter="url(#speck)" opacity="0.45"/>
</g>
<text x="876.0" y="798.0" class="mm" textLength="44.0" lengthAdjust="spacingAndGlyphs" filter="url(#txt)">2 mm</text>
<rect x="876.0" y="811.0" width="41.0" height="3.2" fill="#fdfdfd"/>
</g>
</svg>
</body></html>
